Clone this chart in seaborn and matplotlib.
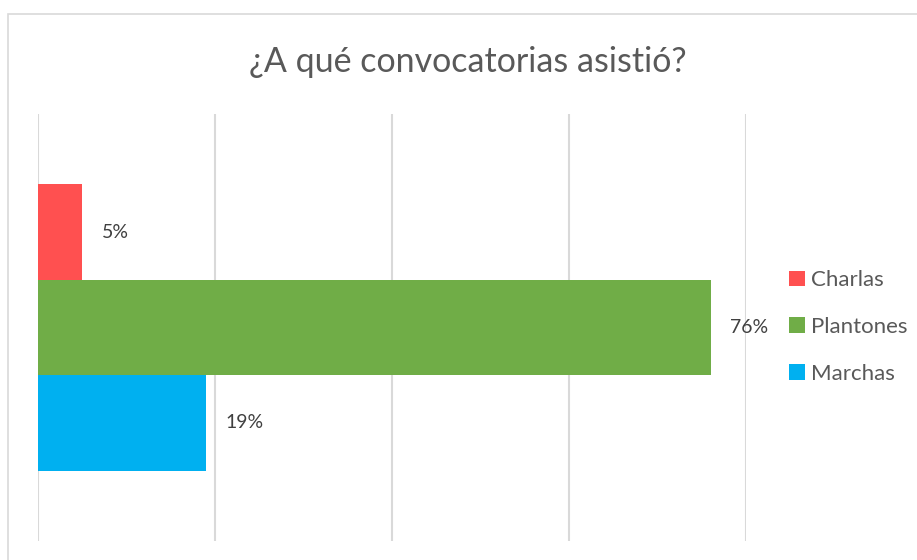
import matplotlib.pyplot as plt
import pandas as pd
import seaborn as sns
from matplotlib.patches import Patch, Rectangle

categorias = ['Charlas', 'Plantones', 'Marchas']
porcentajes = [0.05, 0.76, 0.19]
etiquetas = ['5%', '76%', '19%']
colores = ['#FF5050', '#70AD47', '#00B0F0']
titulo = '¿A qué convocatorias asistió?'

df = pd.DataFrame({'grupo': ['total'] * 3, 'tipo': categorias, 'valor': porcentajes})

sns.set_style('white')
plt.rcParams['font.family'] = ['Lato', 'DejaVu Sans']

fig = plt.figure(figsize=(9.17, 5.60), dpi=100)
ax = fig.add_axes([38 / 917, 1 - 541 / 560, (746 - 38) / 917, (541 - 114) / 560])

sns.barplot(data=df, x='valor', y='grupo', hue='tipo', hue_order=categorias,
            palette=colores, orient='h', width=0.67, saturation=1,
            linewidth=0, legend=False, ax=ax)

ax.set_xlim(0, 0.8)
ax.set_ylim(0.5, -0.5)
ax.set_xticks([0, 0.2, 0.4, 0.6, 0.8])
ax.xaxis.grid(True, color='#D9D9D9', linewidth=1.5)
ax.set_axisbelow(True)
ax.tick_params(left=False, bottom=False, labelleft=False, labelbottom=False)
ax.set_xlabel('')
ax.set_ylabel('')
for s in ax.spines.values():
    s.set_visible(False)

for cont, lab in zip(ax.containers, etiquetas):
    ax.bar_label(cont, labels=[lab], padding=14, fontsize=14, color='#404040')

fig.text(468 / 917, 1 - 62 / 560, titulo, ha='center', va='center',
         fontsize=24.5, color='#595959')

handles = [Patch(facecolor=c, edgecolor='none') for c in colores]
fig.legend(handles, categorias, loc='center left', bbox_to_anchor=(769 / 917, 1 - 327 / 560),
           frameon=False, fontsize=16, labelcolor='#595959', handlelength=0.7,
           handleheight=0.7, handletextpad=0.3, labelspacing=1.2)

fig.patches.append(Rectangle((8 / 917, -0.1), 1.2, 1 - 14 / 560 + 0.1,
                             transform=fig.transFigure, fill=False,
                             edgecolor='#D9D9D9', linewidth=1.2))

fig.savefig('out.png', dpi=100)
